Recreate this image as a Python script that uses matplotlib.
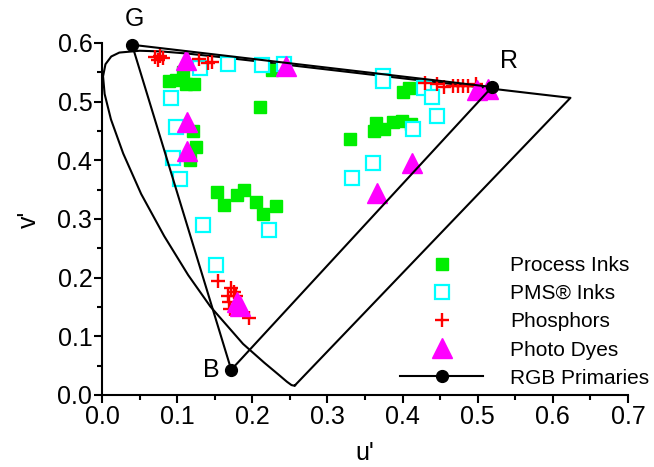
import matplotlib
matplotlib.use("Agg")
import matplotlib.pyplot as plt
from matplotlib.ticker import MultipleLocator

plt.rcParams["font.family"] = ["Liberation Sans", "DejaVu Sans"]

# ---------------------------------------------------
# Data (u', v' chromaticity coordinates)
# ---------------------------------------------------

# spectral locus, 380 nm -> 700 nm
locus_u = [0.2568, 0.2557, 0.2522, 0.2461, 0.2347, 0.2161, 0.1877, 0.1441,
           0.1147, 0.0828, 0.0521, 0.0282, 0.0119, 0.0035, 0.0014, 0.0046,
           0.0123, 0.0231, 0.0501, 0.0792, 0.1127, 0.1531, 0.2026, 0.2623,
           0.3315, 0.4035, 0.4692, 0.5203, 0.5709, 0.6234]
locus_v = [0.0165, 0.0159, 0.0169, 0.0226, 0.0350, 0.0549, 0.0871, 0.1510,
           0.2044, 0.2708, 0.3427, 0.4117, 0.4698, 0.5131, 0.5432, 0.5638,
           0.5770, 0.5837, 0.5868, 0.5856, 0.5821, 0.5766, 0.5694, 0.5604,
           0.5501, 0.5393, 0.5296, 0.5219, 0.5143, 0.5065]

process_u = [0.089, 0.108, 0.112, 0.122, 0.098, 0.226, 0.210, 0.121, 0.125,
             0.117, 0.153, 0.162, 0.180, 0.189, 0.205, 0.214, 0.232, 0.330,
             0.362, 0.365, 0.375, 0.387, 0.399, 0.411, 0.401, 0.409]
process_v = [0.535, 0.551, 0.530, 0.530, 0.537, 0.554, 0.491, 0.450, 0.423,
             0.401, 0.346, 0.324, 0.341, 0.349, 0.329, 0.309, 0.322, 0.436,
             0.450, 0.464, 0.453, 0.465, 0.467, 0.462, 0.516, 0.523]

pms_u = [0.130, 0.168, 0.213, 0.242, 0.092, 0.098, 0.094, 0.104, 0.134,
         0.222, 0.152, 0.374, 0.374, 0.429, 0.439, 0.446, 0.414, 0.361, 0.333]
pms_v = [0.557, 0.564, 0.562, 0.564, 0.506, 0.457, 0.404, 0.368, 0.290,
         0.281, 0.222, 0.544, 0.535, 0.523, 0.508, 0.476, 0.453, 0.395, 0.370]

phos_u = [0.071, 0.077, 0.075, 0.081, 0.129, 0.141, 0.146, 0.430, 0.446,
          0.455, 0.467, 0.474, 0.480, 0.487, 0.498, 0.154, 0.172, 0.176,
          0.168, 0.178, 0.169, 0.170, 0.196]
phos_v = [0.576, 0.578, 0.571, 0.574, 0.573, 0.566, 0.568, 0.532, 0.530,
          0.525, 0.527, 0.527, 0.527, 0.527, 0.530, 0.194, 0.182, 0.176,
          0.169, 0.169, 0.159, 0.147, 0.131]

dye_u = [0.112, 0.113, 0.113, 0.245, 0.499, 0.514, 0.413, 0.366, 0.180, 0.183]
dye_v = [0.571, 0.465, 0.416, 0.561, 0.520, 0.522, 0.395, 0.344, 0.159, 0.151]

primary_names = ["G", "R", "B"]
primary_u = [0.040, 0.519, 0.172]
primary_v = [0.597, 0.525, 0.043]

# ---------------------------------------------------
# Plot
# ---------------------------------------------------

fig = plt.figure(figsize=(6.54, 4.67), dpi=100)
ax = fig.add_axes([102 / 654, 1 - 395 / 467, 526 / 654, 352 / 467])

ax.plot(locus_u + [locus_u[0]], locus_v + [locus_v[0]],
        color="black", lw=1.5, clip_on=False, zorder=2)

ax.plot(process_u, process_v, ls="none", marker="s", ms=8.5,
        color="#00ee00", mec="#00ee00", label="Process Inks", zorder=3)
ax.plot(pms_u, pms_v, ls="none", marker="s", ms=9.5, mfc="white",
        mec="#00ffff", mew=1.6, label="PMS® Inks", zorder=4)
ax.plot(phos_u, phos_v, ls="none", marker="+", ms=9.5, mew=1.7,
        color="red", label="Phosphors", zorder=5)
ax.plot(dye_u, dye_v, ls="none", marker="^", ms=14,
        color="#ff00ff", mec="#ff00ff", label="Photo Dyes", zorder=6)

ax.plot(primary_u + [primary_u[0]], primary_v + [primary_v[0]],
        color="black", lw=1.5, marker="o", ms=8.5, markevery=[0, 1, 2],
        clip_on=False, label="RGB Primaries", zorder=7)

label_offsets = {"G": (0.003, 0.044), "R": (0.023, 0.044), "B": (-0.027, 0.0)}
for name, u, v in zip(primary_names, primary_u, primary_v):
    du, dv = label_offsets[name]
    ax.text(u + du, v + dv, name, fontsize=18, ha="center", va="center",
            clip_on=False)

# ---------------------------------------------------
# Axes styling
# ---------------------------------------------------

ax.set_xlim(0, 0.7)
ax.set_ylim(0, 0.6)
ax.xaxis.set_major_locator(MultipleLocator(0.1))
ax.xaxis.set_minor_locator(MultipleLocator(0.05))
ax.yaxis.set_major_locator(MultipleLocator(0.1))
ax.yaxis.set_minor_locator(MultipleLocator(0.05))
ax.xaxis.set_major_formatter(lambda x, pos: f"{x:.1f}")
ax.yaxis.set_major_formatter(lambda x, pos: f"{x:.1f}")

for side in ["top", "right"]:
    ax.spines[side].set_visible(False)
for side in ["left", "bottom"]:
    ax.spines[side].set_linewidth(1.5)

ax.tick_params(which="major", direction="out", length=6, width=1.5,
               labelsize=18, pad=1)
ax.tick_params(which="minor", direction="out", length=3.5, width=1.5)

ax.set_xlabel("u'", fontsize=18, labelpad=9)
ax.set_ylabel("v'", fontsize=18, labelpad=12)

ax.legend(loc="upper left", bbox_to_anchor=(400 / 654, 1 - 256 / 467),
          bbox_transform=fig.transFigure, frameon=False, fontsize=15,
          handlelength=4.0, handletextpad=1.3, labelspacing=0.44,
          borderpad=0, borderaxespad=0, numpoints=1)

plt.savefig("out.png", dpi=100)
